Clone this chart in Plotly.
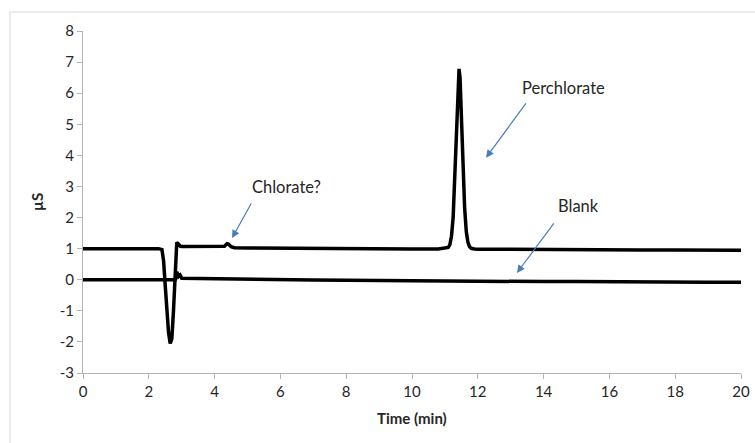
import plotly.graph_objects as go

# Sample (upper trace)
sample_t = [0, 0.5, 1.0, 1.5, 2.0, 2.3, 2.4, 2.45, 2.5, 2.55, 2.6, 2.65, 2.7, 2.75, 2.8, 2.85,
            2.9, 2.95, 3.0, 3.5, 4.0, 4.3, 4.38, 4.42, 4.5, 4.6, 5.0, 6, 7, 8, 9, 10, 10.8,
            11.05, 11.1, 11.15, 11.2, 11.25, 11.3, 11.35, 11.4, 11.43, 11.46, 11.5, 11.55,
            11.6, 11.65, 11.7, 11.75, 11.8, 11.9, 12.0, 13, 14, 15, 16, 17, 18, 19, 20]
sample_y = [1.0, 1.0, 0.99, 1.0, 1.0, 1.0, 0.97, 0.6, -0.2, -1.0, -1.7, -2.05, -1.9, -1.0, 0.2, 1.2,
            1.15, 1.08, 1.07, 1.07, 1.07, 1.08, 1.16, 1.15, 1.06, 1.03, 1.02, 1.01, 1.0, 1.0, 0.99, 0.99, 0.99,
            1.01, 1.04, 1.12, 1.4, 2.0, 3.2, 4.8, 6.2, 6.78, 6.5, 5.3, 3.6,
            2.3, 1.55, 1.2, 1.06, 1.01, 0.99, 0.98, 0.98, 0.97, 0.97, 0.97, 0.96, 0.96, 0.95, 0.95]

# Blank (lower trace)
blank_t = [0, 1, 2, 2.4, 2.8, 2.85, 2.9, 2.95, 3.0, 3.5, 4, 5, 6, 7, 8, 9, 10, 11, 12, 13,
           14, 15, 16, 17, 18, 19, 20]
blank_y = [0.0, 0.0, -0.01, 0.0, 0.0, 0.25, 0.1, 0.15, 0.05, 0.04, 0.03, 0.02, 0.0, -0.01, -0.02,
           -0.03, -0.03, -0.04, -0.05, -0.05, -0.06, -0.06, -0.07, -0.07, -0.07, -0.08, -0.08]

x_ticks = [0, 2, 4, 6, 8, 10, 12, 14, 16, 18, 20]
y_ticks = [-3, -2, -1, 0, 1, 2, 3, 4, 5, 6, 7, 8]
y_tick_text = ["-3", "-2", "-1", "0", "1", "2", "3", "4", "5", "6", "7", "8"]

font_family = "Lato, Carlito, Calibri, sans-serif"
text_color = "#262626"
axis_color = "#b3b3b3"
arrow_color = "#4a7ebb"

fig = go.Figure()
fig.add_trace(go.Scatter(x=blank_t, y=blank_y, mode="lines",
                         line=dict(color="black", width=3.5), showlegend=False))
fig.add_trace(go.Scatter(x=sample_t, y=sample_y, mode="lines",
                         line=dict(color="black", width=3.5), showlegend=False))

fig.update_layout(
    width=755, height=443,
    margin=dict(l=83, r=14, t=31, b=70),
    paper_bgcolor="white", plot_bgcolor="white",
    font=dict(family=font_family, size=15, color=text_color),
    xaxis=dict(range=[0, 20], tickvals=x_ticks, showgrid=False, zeroline=False,
               showline=True, linecolor=axis_color, linewidth=1, automargin=False,
               ticks="outside", ticklen=5, tickcolor=axis_color),
    yaxis=dict(range=[-3, 8], tickvals=y_ticks, ticktext=y_tick_text, showgrid=False,
               zeroline=False, showline=True, linecolor=axis_color, linewidth=1,
               automargin=False, ticks="outside", ticklen=5, tickcolor=axis_color),
    shapes=[dict(type="rect", xref="paper", yref="paper",
                 x0=-0.111, x1=1.05, y0=-0.3, y1=1.0556,
                 line=dict(color="#d9d9d9", width=1), fillcolor="rgba(0,0,0,0)")],
)

# axis titles
fig.add_annotation(text="<b>Time (min)</b>", xref="paper", yref="paper", x=0.5, y=-0.1316,
                   xanchor="center", yanchor="middle", showarrow=False,
                   font=dict(size=15, family=font_family, color=text_color))
fig.add_annotation(text="<b>µS</b>", xref="paper", yref="paper", x=-0.07, y=0.5,
                   xanchor="center", yanchor="middle", textangle=-90, showarrow=False,
                   font=dict(size=15, family=font_family, color=text_color))

# labels
labels = [("Chlorate?", 6.2, 2.99), ("Perchlorate", 14.59, 6.17), ("Blank", 15.05, 2.37)]
for txt, lx, ly in labels:
    fig.add_annotation(text=txt, x=lx, y=ly, showarrow=False,
                       font=dict(size=16.5, family=font_family, color=text_color))

# arrows
arrows = [(4.53, 1.34, 20, -36), (12.25, 3.92, 41, -56), (13.19, 0.22, 38, -51)]
for hx, hy, dx, dy in arrows:
    fig.add_annotation(text="", x=hx, y=hy, ax=dx, ay=dy, showarrow=True,
                       arrowhead=2, arrowsize=1.3, arrowwidth=1.2, arrowcolor=arrow_color)

fig.write_html("out.html")
